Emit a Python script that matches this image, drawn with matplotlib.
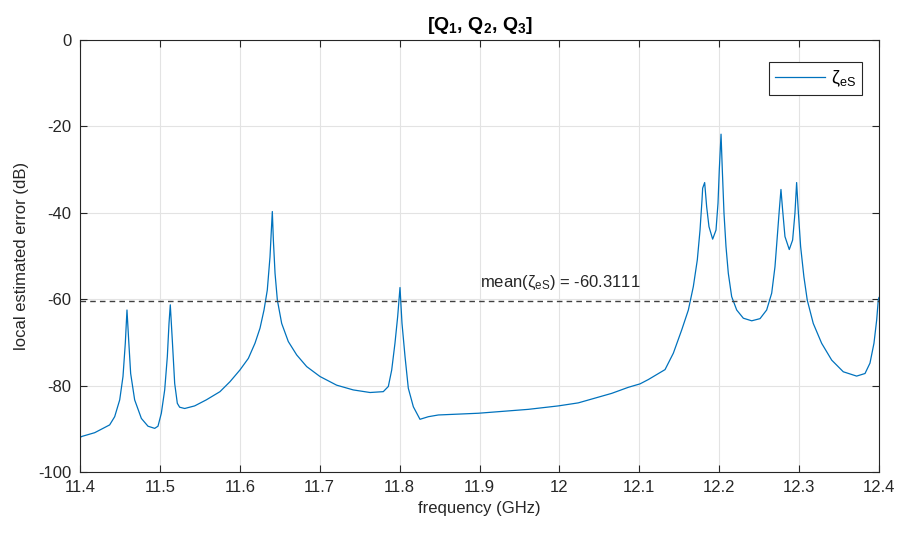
import numpy as np
import matplotlib
matplotlib.use("Agg")
import matplotlib.pyplot as plt

plt.rcParams.update({
    "font.family": "Liberation Sans",
    "font.size": 12,
    "axes.unicode_minus": False,
    "mathtext.fontset": "custom",
    "mathtext.rm": "Liberation Sans",
    "mathtext.it": "Liberation Sans:italic",
    "mathtext.bf": "Liberation Sans:bold",
})

# local estimated error vs frequency
freq_ghz = [
    11.4000, 11.4017, 11.4184, 11.4371, 11.4434, 11.4497, 11.4538, 11.4567,
    11.4588, 11.4609, 11.4634, 11.4684, 11.4768, 11.4851, 11.4935, 11.4976,
    11.5018, 11.5060, 11.5093, 11.5114, 11.5130, 11.5155, 11.5185, 11.5218,
    11.5247, 11.5310, 11.5435, 11.5581, 11.5752, 11.5877, 11.6001, 11.6107,
    11.6190, 11.6253, 11.6303, 11.6344, 11.6378, 11.6395, 11.6407, 11.6420,
    11.6441, 11.6470, 11.6524, 11.6607, 11.6712, 11.6837, 11.7004, 11.7212,
    11.7420, 11.7630, 11.7796, 11.7859, 11.7901, 11.7942, 11.7976, 11.8005,
    11.8030, 11.8068, 11.8109, 11.8172, 11.8255, 11.8360, 11.8485, 11.8985,
    11.9610, 11.9986, 12.0236, 12.0445, 12.0654, 12.0862, 12.1009, 12.1113,
    12.1322, 12.1426, 12.1531, 12.1614, 12.1676, 12.1726, 12.1760, 12.1785,
    12.1793, 12.1818, 12.1843, 12.1872, 12.1918, 12.1960, 12.1985, 12.2001,
    12.2023, 12.2039, 12.2060, 12.2085, 12.2114, 12.2156, 12.2219, 12.2302,
    12.2407, 12.2511, 12.2594, 12.2657, 12.2698, 12.2727, 12.2752, 12.2773,
    12.2794, 12.2823, 12.2877, 12.2919, 12.2948, 12.2969, 12.2989, 12.3019,
    12.3060, 12.3102, 12.3177, 12.3282, 12.3408, 12.3553, 12.3720, 12.3825,
    12.3887, 12.3937, 12.3971, 12.3991, 12.4000,
]
err_db = [
    -92.1, -91.8, -90.9, -89.1, -87.2, -83.3, -77.9, -70.2,
    -62.5, -69.4, -77.2, -83.3, -87.6, -89.4, -89.9, -89.4,
    -86.4, -81.0, -73.3, -65.6, -61.3, -69.4, -79.5, -84.1,
    -85.0, -85.3, -84.7, -83.3, -81.4, -79.1, -76.4, -73.7,
    -70.2, -66.7, -62.5, -57.9, -50.2, -44.0, -39.7, -46.3,
    -54.0, -60.2, -65.6, -69.8, -72.9, -75.6, -77.9, -79.9,
    -81.0, -81.6, -81.4, -80.2, -76.4, -70.2, -64.0, -57.3,
    -65.6, -73.3, -80.6, -84.9, -87.8, -87.2, -86.8, -86.4,
    -85.5, -84.7, -84.0, -82.9, -81.8, -80.4, -79.6, -78.6,
    -76.3, -72.5, -67.1, -62.5, -57.1, -50.9, -44.0, -37.0,
    -34.3, -33.0, -38.6, -43.2, -46.1, -44.0, -37.8, -30.1,
    -21.8, -30.1, -40.1, -47.8, -54.0, -59.4, -62.5, -64.4,
    -65.0, -64.5, -62.5, -58.6, -52.5, -45.5, -39.4, -34.6,
    -39.4, -45.5, -48.5, -46.3, -40.1, -33.0, -39.4, -47.8,
    -54.8, -60.2, -65.6, -70.2, -74.1, -76.8, -77.8, -77.2,
    -74.8, -70.2, -64.8, -60.2, -59.6,
]
mean_err = -60.3111

x_ticks = [11.4, 11.5, 11.6, 11.7, 11.8, 11.9, 12.0, 12.1, 12.2, 12.3, 12.4]
x_tick_labels = ["11.4", "11.5", "11.6", "11.7", "11.8", "11.9", "12",
                 "12.1", "12.2", "12.3", "12.4"]
y_ticks = [-100, -80, -60, -40, -20, 0]

fig = plt.figure(figsize=(9.01, 5.35), dpi=100)
ax = fig.add_axes([80 / 901, 63 / 535, 799 / 901, 432 / 535])

ax.plot(freq_ghz, err_db, color="#0072BD", lw=0.9, label="ζ$_{\\mathrm{eS}}$")
ax.axhline(mean_err, color="#404040", lw=1.0, ls=(0, (4, 3)))
ax.text(11.9, mean_err + 1.9, "mean(ζ$_{\\mathrm{eS}}$) = %.4f" % mean_err,
        ha="left", va="bottom", fontsize=12, color="#262626")

ax.set_xlim(11.4, 12.4)
ax.set_ylim(-100, 0)
ax.set_xticks(x_ticks)
ax.set_xticklabels(x_tick_labels)
ax.set_yticks(y_ticks)
ax.grid(True, color="#e3e3e3", lw=0.8)
ax.set_axisbelow(True)
ax.tick_params(direction="in", top=True, right=True, length=5, width=0.8,
               colors="#262626", labelsize=12, pad=6)
for s in ax.spines.values():
    s.set_color("#262626")
    s.set_linewidth(0.8)

ax.set_xlabel("frequency (GHz)", fontsize=12, color="#262626", labelpad=4)
ax.set_ylabel("local estimated error (dB)", fontsize=12, color="#262626", labelpad=7)
ax.set_title("[Q$_\\mathbf{1}$, Q$_\\mathbf{2}$, Q$_\\mathbf{3}$]",
             fontsize=14, fontweight="bold", color="#000000", pad=7)

leg = ax.legend(loc="upper right", bbox_to_anchor=(0.979, 0.949), fontsize=13,
                fancybox=False, framealpha=1, edgecolor="#262626",
                handlelength=2.8, handletextpad=0.3, borderpad=0.35,
                borderaxespad=0)
leg.get_frame().set_linewidth(0.8)

fig.savefig("out.png", dpi=100)
